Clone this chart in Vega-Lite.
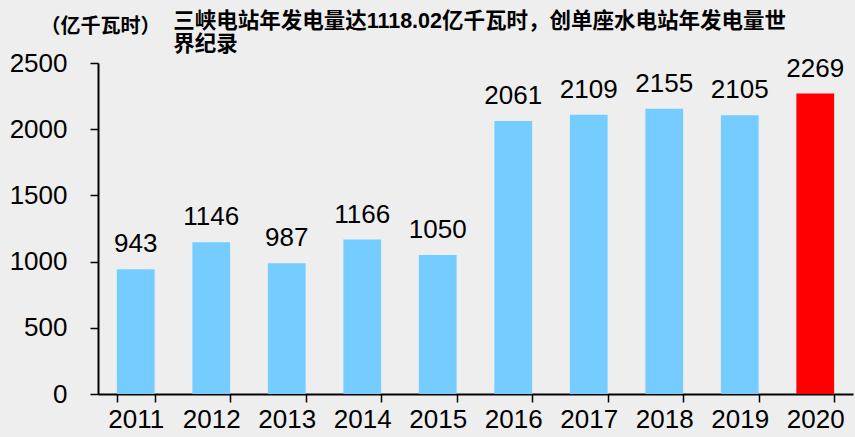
{
  "$schema": "https://vega.github.io/schema/vega-lite/v6.json",
  "autosize": {"type": "none"},
  "width": 755,
  "height": 331,
  "padding": {"left": 98, "top": 63, "right": 2, "bottom": 43},
  "background": "#EEEEEE",
  "title": {
    "text": ["三峡电站年发电量达1118.02亿千瓦时，创单座水电站年发电量世", "界纪录"],
    "anchor": "start",
    "dx": 164,
    "dy": 47,
    "offset": 8,
    "font": "Liberation Sans, Noto Sans CJK SC",
    "fontSize": 21.5,
    "fontWeight": "bold",
    "lineHeight": 23,
    "color": "#000000"
  },
  "config": {
    "view": {"stroke": null},
    "axis": {
      "labelFont": "Liberation Sans",
      "labelFontSize": 26,
      "labelColor": "#000000",
      "domainColor": "#000000",
      "domainWidth": 2,
      "tickColor": "#000000",
      "tickWidth": 1.5,
      "tickSize": 8,
      "grid": false
    }
  },
  "data": {
    "values": [
      {"year": "2011", "value": 943},
      {"year": "2012", "value": 1146},
      {"year": "2013", "value": 987},
      {"year": "2014", "value": 1166},
      {"year": "2015", "value": 1050},
      {"year": "2016", "value": 2061},
      {"year": "2017", "value": 2109},
      {"year": "2018", "value": 2155},
      {"year": "2019", "value": 2105},
      {"year": "2020", "value": 2269}
    ]
  },
  "encoding": {
    "x": {
      "field": "year",
      "type": "ordinal",
      "scale": {"paddingInner": 0.5, "paddingOuter": 0.25},
      "axis": {"title": null, "labelAngle": 0, "tickBand": "extent", "labelPadding": 4}
    },
    "y": {
      "field": "value",
      "type": "quantitative",
      "scale": {"domain": [0, 2500], "nice": false},
      "axis": {
        "values": [0, 500, 1000, 1500, 2000, 2500],
        "format": "d",
        "labelPadding": 23,
        "title": "（亿千瓦时）",
        "titleAngle": 0,
        "titleFont": "Noto Sans CJK SC",
        "titleFontSize": 20,
        "titleFontWeight": "bold",
        "titleColor": "#000000",
        "titleAlign": "left",
        "titleBaseline": "middle",
        "titleX": -58,
        "titleY": -37
      }
    }
  },
  "layer": [
    {
      "mark": {"type": "bar"},
      "encoding": {
        "color": {
          "condition": {"test": "datum.year === '2020'", "value": "#FF0000"},
          "value": "#75CCFF"
        }
      }
    },
    {
      "mark": {"type": "text", "baseline": "bottom", "dy": -12, "font": "Liberation Sans", "fontSize": 26, "color": "#000000"},
      "encoding": {"text": {"field": "value", "type": "quantitative", "format": "d"}}
    }
  ]
}
